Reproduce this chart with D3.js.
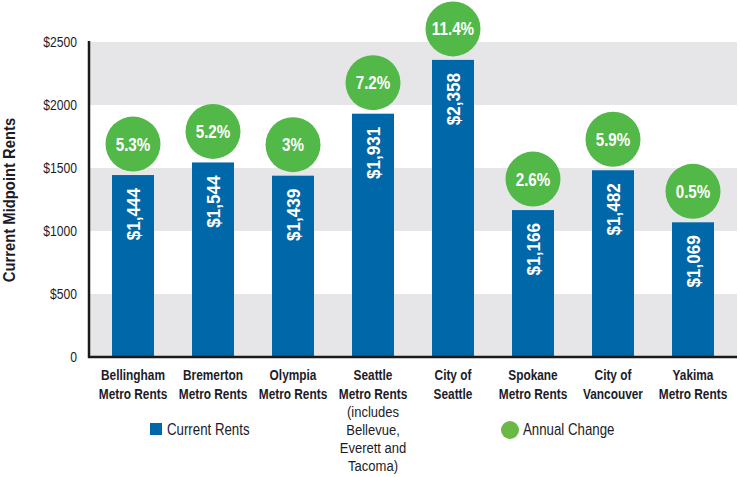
<!DOCTYPE html>
<html>
<head>
<meta charset="utf-8">
<script src="https://cdn.jsdelivr.net/npm/d3@7"></script>
<style>
  body { margin: 0; background: #fff; }
  svg text { font-family: "Liberation Sans", Arial, sans-serif; }
</style>
</head>
<body>
<div id="chart"></div>
<script>
// data
var categories = [
  ["Bellingham", "Metro Rents"],
  ["Bremerton", "Metro Rents"],
  ["Olympia", "Metro Rents"],
  ["Seattle", "Metro Rents"],
  ["City of", "Seattle"],
  ["Spokane", "Metro Rents"],
  ["City of", "Vancouver"],
  ["Yakima", "Metro Rents"]
]
var subNotes = [[], [], [], ["(includes", "Bellevue,", "Everett and", "Tacoma)"], [], [], [], []]
var rents = [1444, 1544, 1439, 1931, 2358, 1166, 1482, 1069]
var changes = ["5.3%", "5.2%", "3%", "7.2%", "11.4%", "2.6%", "5.9%", "0.5%"]
var yTicks = [0, 500, 1000, 1500, 2000, 2500]

var w = 740, h = 477
var plotLeft = 89, plotRight = 737, plotTop = 42, plotBottom = 357
var ink = "#1c1c28"

// squeeze text horizontally so it looks like a condensed face
function condense(sel, k) {
  sel.each(function () {
    var len = this.getComputedTextLength()
    d3.select(this)
      .attr("textLength", len * k)
      .attr("lengthAdjust", "spacingAndGlyphs")
  })
}

var svg = d3.select("#chart").append("svg")
  .attr("width", w)
  .attr("height", h)

var x = d3.scaleBand()
  .domain(d3.range(categories.length))
  .range([93, 733])
  .paddingInner(0.475)
  .paddingOuter(0.2375)

var y = d3.scaleLinear()
  .domain([0, 2500])
  .range([plotBottom, plotTop])

// alternating bands
var bands = d3.range(0, 2500, 500)
svg.selectAll("rect.band")
  .data(bands)
  .enter()
  .append("rect")
  .attr("class", "band")
  .attr("x", plotLeft)
  .attr("width", plotRight - plotLeft)
  .attr("y", function (d) { return y(d + 500) })
  .attr("height", function (d) { return y(d) - y(d + 500) })
  .attr("fill", function (d) { return (d / 500) % 2 == 0 ? "#e6e6e8" : "#ffffff" })

// y axis labels
var yAxis = d3.axisLeft(y)
  .tickValues(yTicks)
  .tickSize(0)
  .tickPadding(12)
  .tickFormat(function (d) { return d == 0 ? "0" : "$" + d })

var yText = svg.append("g")
  .attr("transform", "translate(" + plotLeft + ",0)")
  .call(yAxis)
  .call(function (g) { g.select(".domain").remove() })
  .attr("font-family", null)
  .attr("font-size", null)
  .selectAll("text")
  .attr("font-size", 15)
  .attr("fill", ink)
condense(yText, 0.81)

var yTitle = svg.append("text")
  .attr("transform", "translate(15,200) rotate(-90)")
  .attr("text-anchor", "middle")
  .attr("font-size", 17)
  .attr("font-weight", "bold")
  .attr("fill", ink)
  .text("Current Midpoint Rents")
condense(yTitle, 0.87)

// bars
svg.selectAll("rect.bar")
  .data(rents)
  .enter()
  .append("rect")
  .attr("class", "bar")
  .attr("x", function (d, i) { return x(i) })
  .attr("width", x.bandwidth())
  .attr("y", function (d) { return y(d) })
  .attr("height", function (d) { return plotBottom - y(d) })
  .attr("fill", "#0067a9")

var barText = svg.selectAll("text.barlabel")
  .data(rents)
  .enter()
  .append("text")
  .attr("class", "barlabel")
  .attr("transform", function (d, i) {
    return "translate(" + (x(i) + x.bandwidth() / 2 + 6.5) + "," + (y(d) + 13) + ") rotate(-90)"
  })
  .attr("text-anchor", "end")
  .attr("font-size", 18)
  .attr("font-weight", "bold")
  .attr("fill", "#fff")
  .text(function (d) { return "$" + d3.format(",")(d) })
condense(barText, 0.95)

// annual change circles
svg.selectAll("circle.change")
  .data(rents)
  .enter()
  .append("circle")
  .attr("class", "change")
  .attr("cx", function (d, i) { return x(i) + x.bandwidth() / 2 })
  .attr("cy", function (d) { return y(d) - 31 })
  .attr("r", 27.5)
  .attr("fill", "#52b848")

var pct = svg.selectAll("text.changelabel")
  .data(rents)
  .enter()
  .append("text")
  .attr("class", "changelabel")
  .attr("x", function (d, i) { return x(i) + x.bandwidth() / 2 })
  .attr("y", function (d) { return y(d) - 31 + 6.5 })
  .attr("text-anchor", "middle")
  .attr("font-size", 19)
  .attr("font-weight", "bold")
  .attr("fill", "#fff")
  .text(function (d, i) { return changes[i] })
condense(pct, 0.8)

// axis lines
svg.append("line")
  .attr("x1", plotLeft).attr("x2", plotLeft)
  .attr("y1", plotTop - 1).attr("y2", plotBottom + 1)
  .attr("stroke", "#1a1a1a").attr("stroke-width", 2.5)
svg.append("line")
  .attr("x1", plotLeft - 1).attr("x2", plotRight)
  .attr("y1", plotBottom).attr("y2", plotBottom)
  .attr("stroke", "#1a1a1a").attr("stroke-width", 2.5)

// category labels
var cat = svg.selectAll("g.cat")
  .data(categories)
  .enter()
  .append("g")
  .attr("class", "cat")
  .attr("transform", function (d, i) { return "translate(" + (x(i) + x.bandwidth() / 2) + ",0)" })

cat.each(function (d, i) {
  var g = d3.select(this)
  d.forEach(function (line, j) {
    g.append("text")
      .attr("class", "catname")
      .attr("y", 379.5 + j * 19)
      .attr("text-anchor", "middle")
      .attr("font-size", 15)
      .attr("font-weight", "bold")
      .attr("fill", ink)
      .text(line)
  })
  subNotes[i].forEach(function (line, j) {
    g.append("text")
      .attr("class", "catnote")
      .attr("y", 416.5 + j * 18.3)
      .attr("text-anchor", "middle")
      .attr("font-size", 15.5)
      .attr("fill", ink)
      .text(line)
  })
})
condense(svg.selectAll("text.catname"), 0.79)
condense(svg.selectAll("text.catnote"), 0.84)

// legend
svg.append("rect")
  .attr("x", 150).attr("y", 423)
  .attr("width", 12).attr("height", 12)
  .attr("fill", "#0067a9")
var leg1 = svg.append("text")
  .attr("x", 167).attr("y", 435)
  .attr("font-size", 17)
  .attr("fill", ink)
  .text("Current Rents")

svg.append("circle")
  .attr("cx", 510).attr("cy", 430)
  .attr("r", 9)
  .attr("fill", "#6ab945")
var leg2 = svg.append("text")
  .attr("x", 523).attr("y", 435)
  .attr("font-size", 17)
  .attr("fill", ink)
  .text("Annual Change")
condense(leg1, 0.78)
condense(leg2, 0.78)
</script>
</body>
</html>
